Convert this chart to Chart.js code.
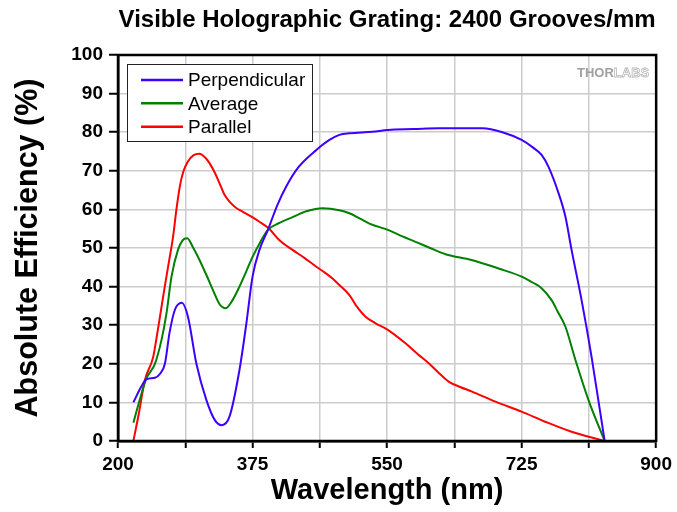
<!DOCTYPE html>
<html>
<head>
<meta charset="utf-8">
<script src="https://cdn.jsdelivr.net/npm/chart.js@4/dist/chart.umd.min.js"></script>
<style>
  html, body { margin: 0; padding: 0; background: #ffffff; }
  #wrap { width: 677px; height: 512px; position: relative; }
</style>
</head>
<body>
<div id="wrap"><canvas id="c" width="677" height="512"></canvas></div>
<script>
const chartTitle = "Visible Holographic Grating: 2400 Grooves/mm";
const xTitle = "Wavelength (nm)";
const yTitle = "Absolute Efficiency (%)";
const xTickLabels = [200, 375, 550, 725, 900];
const seriesNames = ["Perpendicular", "Average", "Parallel"];

const perpWl  = [220,230,237,248,255,261,267,274,283,291,302,315,326,335,345,358,367,375,384,395,407,419,435,458,475,488,501,531,551,585,617,650,674,700,725,740,751,760,773,782,790,803,816,833];
const perpEff = [10,14,16,16.4,17.5,20,28,34,35.8,32.2,20,10.6,5.4,4.1,6.3,18.4,30.5,42.6,49.5,54.7,61,66,71,75.4,78,79.3,79.7,80.1,80.6,80.8,81,81,81,80,78,76,74.1,71,64.2,58.1,49.5,36.5,21.8,0];

const avgWl  = [220,228,237,248,256.6,263,269.6,278,284,290,298,306,315,323.5,332,340,349,358,367,375,385,395,410,427,445,466,488,501,515,527,551,570,587,606,626,660,695,725,740,751,764,772,782,795,812,833];
const avgEff = [4.7,10.5,16.2,20,26.2,33,42.6,49.5,52,52.5,50,46.9,43,39.1,35.5,34.4,36.5,40,44,47.7,51.5,54.7,56.5,58,59.5,60.3,59.8,59,57.6,56.3,54.7,53,51.6,50,48.4,46.9,44.7,42.6,41,39.6,36.5,33.5,29.6,21,10.6,0];

const parWl  = [220,227,235,245.8,252,258.7,265,271.7,276,280.4,285,291,298,306,313,319,326,332,338,345,353,362,373,384,396,410,427,442,457.6,470,479,488,501,510,522,535,551,574,590,604.5,618,630,645,660.6,691,725,755.7,790,833];
const parEff = [0,7,15.8,21.8,29,37.4,45,53,60,65.9,69.8,72.4,74,74.4,73.5,72,69.5,66.8,64,62,60.5,59.4,58.2,56.8,55.1,52,49.5,47.5,45.2,43.5,42.1,40.4,37.8,35,32.2,30.5,28.8,25.3,22.5,20.1,17.5,15.4,14,12.8,10.2,7.6,5,2.4,0];

const seriesColors = ["#3d00ff", "#008000", "#ff0000"];

function pts(xs, ys) { return xs.map((x, i) => ({ x: x, y: ys[i] })); }

const FONT = "Arial, 'Liberation Sans', sans-serif";

const boxPlugin = {
  id: 'boxPlugin',
  afterDraw(chart) {
    const ctx = chart.ctx;
    const a = chart.chartArea;
    ctx.save();
    ctx.strokeStyle = '#000';
    ctx.lineWidth = 2.5;
    ctx.strokeRect(a.left, a.top, a.right - a.left, a.bottom - a.top);

    const lx = 127, ly = 64, lw = 185, lh = 77;
    ctx.fillStyle = '#fff';
    ctx.fillRect(lx, ly, lw, lh);
    ctx.strokeStyle = '#222';
    ctx.lineWidth = 1;
    ctx.strokeRect(lx + 0.5, ly + 0.5, lw, lh);
    const rows = [80, 103.3, 126.7];
    ctx.font = "19px " + FONT;
    ctx.textBaseline = 'middle';
    ctx.textAlign = 'left';
    chart.data.datasets.forEach((ds, i) => {
      ctx.strokeStyle = ds.borderColor;
      ctx.lineWidth = 2.5;
      ctx.beginPath();
      ctx.moveTo(141, rows[i]);
      ctx.lineTo(183, rows[i]);
      ctx.stroke();
      ctx.fillStyle = '#000';
      ctx.fillText(ds.label, 188, rows[i] + 1);
    });

    ctx.font = "bold 13px " + FONT;
    ctx.textBaseline = 'middle';
    ctx.fillStyle = '#a0a0a0';
    ctx.fillText("THOR", 577, 73);
    const w = ctx.measureText("THOR").width;
    ctx.strokeStyle = '#b8b8b8';
    ctx.lineWidth = 0.8;
    ctx.strokeText("LABS", 577 + w, 73);
    ctx.restore();
  }
};

new Chart(document.getElementById('c'), {
  type: 'line',
  data: {
    datasets: [
      { label: seriesNames[0], data: pts(perpWl, perpEff), borderColor: seriesColors[0] },
      { label: seriesNames[1], data: pts(avgWl, avgEff), borderColor: seriesColors[1] },
      { label: seriesNames[2], data: pts(parWl, parEff), borderColor: seriesColors[2] }
    ]
  },
  options: {
    responsive: false,
    animation: false,
    devicePixelRatio: 1,
    layout: { padding: { left: 0, right: 19, top: 0, bottom: 0 } },
    elements: {
      point: { radius: 0 },
      line: { borderWidth: 2, tension: 0.4, cubicInterpolationMode: 'monotone', fill: false }
    },
    plugins: {
      legend: { display: false },
      tooltip: { enabled: false },
      title: {
        display: true,
        text: chartTitle,
        fullSize: false,
        color: '#000',
        font: { family: FONT, size: 24, weight: 'bold' },
        padding: { top: 6, bottom: 20.2 }
      }
    },
    scales: {
      x: {
        type: 'linear',
        min: 200, max: 900,
        afterFit(s) { s.height = 71; },
        ticks: {
          stepSize: 87.5,
          autoSkip: false,
          maxRotation: 0,
          padding: 5,
          color: '#000',
          font: { family: FONT, size: 19, weight: 'bold' },
          callback(v) { return xTickLabels.includes(v) ? String(v) : ''; }
        },
        grid: { color: '#cccccc', lineWidth: 1.5, tickLength: 7, tickColor: '#000', tickWidth: 2 },
        border: { display: true, color: '#000', width: 2.5 },
        title: {
          display: true, text: xTitle, color: '#000',
          font: { family: FONT, size: 29, weight: 'bold' },
          padding: { top: 0, bottom: 4 }
        }
      },
      y: {
        min: 0, max: 100,
        afterFit(s) { s.width = 118; },
        ticks: {
          stepSize: 10,
          padding: 6,
          color: '#000',
          font: { family: FONT, size: 19, weight: 'bold' }
        },
        grid: { color: '#cccccc', lineWidth: 1.5, tickLength: 9, tickColor: '#000', tickWidth: 2 },
        border: { display: true, color: '#000', width: 2.5 },
        title: {
          display: true, text: yTitle, color: '#000',
          font: { family: FONT, size: 30.5, weight: 'bold' },
          padding: { top: 10, bottom: 0 }
        }
      }
    }
  },
  plugins: [boxPlugin]
});
</script>
</body>
</html>
